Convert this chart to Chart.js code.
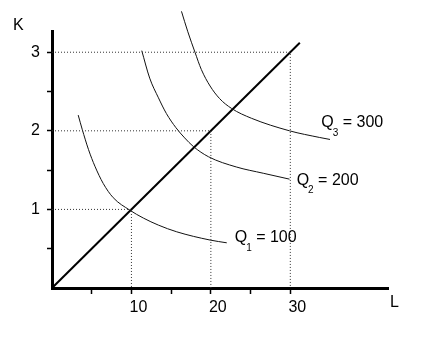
<!DOCTYPE html>
<html>
<head>
<meta charset="utf-8">
<script src="https://cdn.jsdelivr.net/npm/chart.js@4/dist/chart.umd.min.js"></script>
<style>
  html, body { margin: 0; padding: 0; background: #fff; }
  #wrap { width: 430px; height: 343px; }
</style>
</head>
<body>
<div id="wrap"><canvas id="chart" width="430" height="343"></canvas></div>
<script>
// axis ticks (L = labour, K = capital)
const labourTicks = [5, 10, 15, 20, 25, 30];
const labourLabelled = [10, 20, 30];
const capitalTicks = [0.5, 1, 1.5, 2, 2.5, 3];
const capitalLabelled = [1, 2, 3];

// isoquants
const q1L = [3.3, 3.8, 4.6, 5.4, 6.45, 7.7, 9.8, 11.5, 13.4, 15.7, 19.9, 22.0];
const q1K = [2.20, 2.02, 1.76, 1.55, 1.33, 1.15, 0.99, 0.89, 0.80, 0.715, 0.61, 0.575];
const q2L = [11.3, 12.3, 13.4, 14.4, 15.6, 16.7, 17.8, 19.7, 23.2, 26.6, 29.9];
const q2K = [3.02, 2.67, 2.42, 2.22, 2.04, 1.91, 1.80, 1.67, 1.54, 1.46, 1.385];
const q3L = [16.3, 17.1, 18.0, 18.8, 19.9, 21.1, 22.6, 25.1, 29.9, 33.7, 35.0];
const q3K = [3.52, 3.26, 3.00, 2.78, 2.57, 2.41, 2.285, 2.16, 2.00, 1.915, 1.89];
const qNames = ['1', '2', '3'];
const qValues = [100, 200, 300];

// expansion path and the dotted guides to it
const rayL = [0, 31.2];
const rayK = [0, 3.12];
const guideL = [10, 20, 30];
const guideK = [1, 2, 3];

const toPoints = (xs, ys) => xs.map((x, i) => ({ x, y: ys[i] }));

const FONT = '"Liberation Sans", Arial, Helvetica, sans-serif';

const guideSets = guideL.map((l, i) => ({
  data: [{ x: 0, y: guideK[i] }, { x: l, y: guideK[i] }, { x: l, y: 0 }],
  borderColor: '#333',
  borderWidth: 1,
  borderDash: [1, 2],
  pointRadius: 0,
  showLine: true,
  clip: false
}));

const curveStyle = {
  borderColor: '#111',
  borderWidth: 1,
  pointRadius: 0,
  showLine: true,
  cubicInterpolationMode: 'monotone',
  clip: false
};

// Q labels in data units (left edge, vertical middle of the Q)
const qLabelAt = [[23.0, 0.635], [30.8, 1.37], [33.9, 2.10]];

const textPlugin = {
  id: 'econText',
  afterDraw(chart) {
    const { ctx, chartArea, scales } = chart;
    ctx.save();
    ctx.fillStyle = '#000';
    ctx.textBaseline = 'middle';
    ctx.textAlign = 'left';
    ctx.font = '16px ' + FONT;
    ctx.fillText('K', chartArea.left - 39, chartArea.top - 5);
    ctx.fillText('L', chartArea.right + 2, chartArea.bottom + 15);

    qLabelAt.forEach(([l, k], i) => {
      const x = scales.x.getPixelForValue(l);
      const y = scales.y.getPixelForValue(k);
      ctx.font = '16px ' + FONT;
      ctx.fillText('Q', x, y);
      const qw = ctx.measureText('Q').width;
      ctx.font = '10px ' + FONT;
      ctx.fillText(qNames[i], x + qw - 1, y + 10);
      const sw = ctx.measureText(qNames[i]).width;
      ctx.font = '16px ' + FONT;
      ctx.fillText(' = ' + qValues[i], x + qw - 1 + sw, y);
    });
    ctx.restore();
  }
};

new Chart(document.getElementById('chart'), {
  type: 'scatter',
  data: {
    datasets: [
      ...guideSets,
      { data: toPoints(q1L, q1K), ...curveStyle },
      { data: toPoints(q2L, q2K), ...curveStyle },
      { data: toPoints(q3L, q3K), ...curveStyle },
      {
        data: toPoints(rayL, rayK),
        borderColor: '#000',
        borderWidth: 2,
        pointRadius: 0,
        showLine: true,
        clip: false
      }
    ]
  },
  options: {
    responsive: false,
    animation: false,
    layout: { padding: { top: 31, right: 42, left: 0, bottom: 0 } },
    plugins: { legend: { display: false }, tooltip: { enabled: false } },
    scales: {
      x: {
        type: 'linear',
        min: 0,
        max: 42.3,
        afterFit(scale) { scale.height = 55; },
        afterBuildTicks(scale) { scale.ticks = labourTicks.map((v) => ({ value: v })); },
        border: { display: true, width: 3, color: '#000' },
        grid: { drawOnChartArea: false, drawTicks: true, tickLength: 6, tickWidth: 1.5, tickColor: '#000' },
        ticks: {
          color: '#000',
          font: { family: FONT, size: 16 },
          padding: 4,
          labelOffset: 7,
          maxRotation: 0,
          autoSkip: false,
          callback: (v) => (labourLabelled.includes(v) ? String(v) : '')
        }
      },
      y: {
        type: 'linear',
        min: 0,
        max: 3.27,
        afterFit(scale) { scale.width = 52; },
        afterBuildTicks(scale) { scale.ticks = capitalTicks.map((v) => ({ value: v })); },
        border: { display: true, width: 3, color: '#000' },
        grid: { drawOnChartArea: false, drawTicks: true, tickLength: 5, tickWidth: 1.5, tickColor: '#000' },
        ticks: {
          color: '#000',
          font: { family: FONT, size: 16 },
          padding: 7,
          autoSkip: false,
          callback: (v) => (capitalLabelled.includes(v) ? String(v) : '')
        }
      }
    }
  },
  plugins: [textPlugin]
});
</script>
</body>
</html>
